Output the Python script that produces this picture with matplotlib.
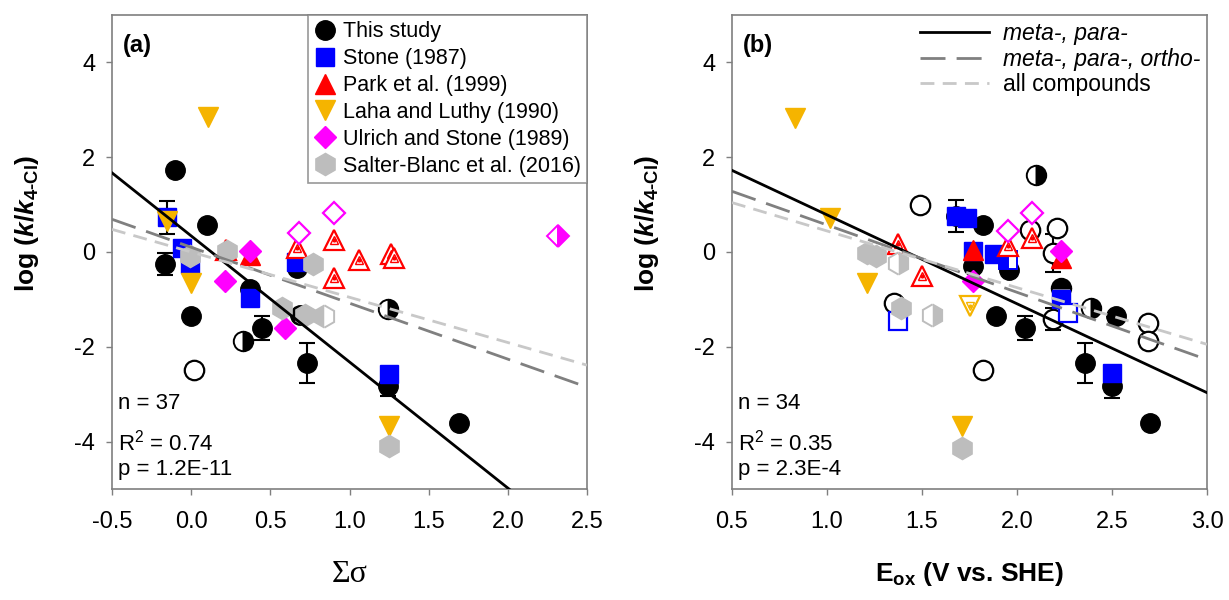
import numpy as np
import matplotlib
matplotlib.use('Agg')
import matplotlib.pyplot as plt
from matplotlib.lines import Line2D

plt.rcParams['font.family'] = ['Liberation Sans', 'DejaVu Sans']
plt.rcParams['axes.unicode_minus'] = False
plt.rcParams['mathtext.fontset'] = 'custom'
plt.rcParams['mathtext.rm'] = 'Liberation Sans:bold'
plt.rcParams['mathtext.it'] = 'Liberation Sans:italic:bold'
plt.rcParams['mathtext.bf'] = 'Liberation Sans:bold'

# ---------------- data, panel (a): log(k/k4-Cl) vs sum sigma ----------------
xa_this = [-0.10, 0.10, -0.165, 0.00, 0.37, 0.445, 0.33, 0.015, 0.73, 1.24, 1.69, 1.24, 0.67, 0.69]
ya_this = [1.74, 0.58, -0.26, -1.35, -0.79, -1.60, -1.88, -2.48, -2.35, -2.83, -3.60, -1.21, -0.33, -1.32]
ka_this = ['full', 'full', 'full', 'full', 'full', 'full', 'right', 'none', 'full', 'full', 'full', 'right', 'full', 'full']

xa_stone = [-0.154, -0.06, -0.006, 0.37, 1.25, 0.66]
ya_stone = [0.73, 0.09, -0.26, -0.96, -2.58, -0.22]
ka_stone = ['full'] * 6

xa_park = [0.37, 0.22, 0.67, 0.90, 0.90, 1.06, 1.26, 1.28]
ya_park = [-0.07, 0.04, 0.09, 0.26, -0.54, -0.16, -0.05, -0.12]
ka_park = ['full', 'dot', 'dot', 'dot', 'dot', 'dot', 'dot', 'dot']

xa_laha = [0.108, -0.154, 0.0, 1.25]
ya_laha = [2.84, 0.65, -0.65, -3.67]
ka_laha = ['full'] * 4

xa_ulrich = [0.373, 0.215, 0.595, 0.68, 0.90, 2.32]
ya_ulrich = [0.02, -0.62, -1.60, 0.40, 0.83, 0.33]
ka_ulrich = ['full', 'full', 'full', 'none', 'none', 'right']

xa_salter = [-0.006, 0.226, 0.574, 0.72, 0.84, 0.77, 1.25]
ya_salter = [-0.09, 0.02, -1.18, -1.32, -1.35, -0.26, -4.10]
ka_salter = ['full', 'full', 'full', 'full', 'left', 'full', 'full']

xa_err = [-0.154, -0.165, 0.445, 0.73, 1.24]
ya_err = [0.73, -0.26, -1.60, -2.35, -2.83]
ea_err = [0.34, 0.23, 0.26, 0.42, 0.20]

# regression lines (a): slope, intercept
fit_a = {'mp': (-2.66, 0.34), 'mpo': (-1.18, 0.10), 'all': (-0.955, 0.0)}

# ---------------- data, panel (b): log(k/k4-Cl) vs Eox ----------------
xb_this = [1.49, 1.82, 1.77, 1.96, 2.10, 2.07, 2.21, 2.19, 2.23, 1.89, 2.04, 1.82, 2.19, 2.39,
           2.52, 2.69, 2.69, 2.36, 2.50, 2.70, 1.35, 1.68]
yb_this = [1.00, 0.58, -0.30, -0.37, 1.63, 0.47, 0.51, -0.03, -0.75, -1.35, -1.60, -2.48, -1.42, -1.18,
           -1.35, -1.50, -1.88, -2.34, -2.83, -3.60, -1.07, 0.76]
kb_this = ['none', 'full', 'full', 'full', 'right', 'none', 'none', 'none', 'top', 'full', 'full', 'none',
           'none', 'right', 'full', 'none', 'none', 'full', 'full', 'full', 'none', 'full']

xb_stone = [1.68, 1.735, 1.77, 1.88, 2.23, 2.50, 1.955, 1.375, 2.27]
yb_stone = [0.76, 0.72, 0.02, -0.05, -1.00, -2.55, -0.16, -1.46, -1.28]
kb_stone = ['full', 'full', 'full', 'full', 'full', 'full', 'left', 'none', 'none']

xb_park = [1.77, 2.23, 1.375, 1.50, 1.955, 2.08]
yb_park = [0.05, -0.12, 0.16, -0.51, 0.12, 0.30]
kb_park = ['full', 'full', 'dot', 'dot', 'dot', 'dot']

xb_laha = [0.83, 1.016, 1.21, 1.71, 1.75]
yb_laha = [2.83, 0.72, -0.65, -3.67, -1.14]
kb_laha = ['full', 'full', 'full', 'full', 'dot']

xb_ulrich = [1.77, 2.23, 1.955, 2.08]
yb_ulrich = [-0.62, 0.02, 0.44, 0.83]
kb_ulrich = ['full', 'full', 'none', 'none']

xb_salter = [1.21, 1.26, 1.375, 1.39, 1.55, 1.71]
yb_salter = [-0.02, -0.09, -0.23, -1.18, -1.32, -4.13]
kb_salter = ['full', 'full', 'right', 'full', 'right', 'full']

xb_err = [1.68, 2.19, 2.04, 2.19, 2.36, 2.50]
yb_err = [0.76, -0.03, -1.60, -1.42, -2.34, -2.83]
eb_err = [0.34, 0.40, 0.26, 0.23, 0.42, 0.24]

fit_b = {'mp': (-1.876, 2.66), 'mpo': (-1.42, 1.99), 'all': (-1.196, 1.64)}

series_labels = ['This study', 'Stone (1987)', 'Park et al. (1999)', 'Laha and Luthy (1990)',
                 'Ulrich and Stone (1989)', 'Salter-Blanc et al. (2016)']
fit_labels = ['meta-, para-', 'meta-, para-, ortho-', 'all compounds']

c_blue = '#0000FF'
c_red = '#FF0000'
c_orange = '#F5B400'
c_mag = '#FF00FF'
c_gray = '#BDBDBD'
frame_col = '#7F7F7F'

styles = [('o', 'black', 14), ('s', c_blue, 13), ('^', c_red, 14),
          ('v', c_orange, 14), ('D', c_mag, 11), ('h', c_gray, 16)]

ylab = r'log ($k$/$k_{\mathregular{4\text{-}Cl}}$)'


def draw(ax, x, y, kinds, marker, color, ms):
    for xi, yi, k in zip(x, y, kinds):
        if k == 'full':
            ax.plot(xi, yi, marker, ms=ms, mfc=color, mec=color, zorder=3)
        elif k == 'none':
            ax.plot(xi, yi, marker, ms=ms, mfc='white', mec=color, mew=1.6, zorder=3)
        elif k == 'dot':
            ax.plot(xi, yi, marker, ms=ms, mfc='white', mec=color, mew=1.6, zorder=3)
            ax.plot(xi, yi, marker, ms=ms * 0.45, mfc='white', mec=color, mew=1.0, ls='none', zorder=3)
            ax.plot(xi, yi, '.', ms=4, color=color, zorder=3)
        else:
            ax.plot(xi, yi, marker, ms=ms, fillstyle=k, mfc=color, mfcalt='white',
                    mec=color, mew=1.4, zorder=3)


def setup(ax, xlim, xticks):
    ax.set_xlim(xlim)
    ax.set_ylim(-5, 5)
    ax.set_xticks(xticks)
    ax.set_xticklabels(['%.1f' % t for t in xticks])
    ax.set_yticks([-4, -2, 0, 2, 4])
    ax.tick_params(direction='out', length=4, width=1, color=frame_col, labelsize=17, pad=8)
    ax.tick_params(axis='x', pad=12)
    for s in ax.spines.values():
        s.set_color(frame_col)
        s.set_linewidth(1.2)


def fit_lines(ax, fit, xlim):
    xx = np.array(xlim)
    ax.plot(xx, fit['mp'][0] * xx + fit['mp'][1], color='black', lw=2, zorder=4)
    ax.plot(xx, fit['mpo'][0] * xx + fit['mpo'][1], color='#808080', lw=2, dashes=(9, 4), zorder=4)
    ax.plot(xx, fit['all'][0] * xx + fit['all'][1], color='#C8C8C8', lw=2, dashes=(5, 3), zorder=4)


def stats(ax, n, r2, p):
    ax.text(0.013, 0.181, 'n = %d' % n, transform=ax.transAxes, fontsize=16, va='center')
    ax.text(0.013, 0.099, r'R$^{\mathregular{2}}$ = %s' % r2, transform=ax.transAxes, fontsize=16, va='center')
    ax.text(0.013, 0.042, 'p = %s' % p, transform=ax.transAxes, fontsize=16, va='center')


fig = plt.figure(figsize=(12.29, 6), dpi=100)
ax1 = fig.add_axes([112 / 1229, 1 - 489 / 600, 475 / 1229, 474 / 600])
ax2 = fig.add_axes([732 / 1229, 1 - 489 / 600, 475 / 1229, 474 / 600])

# panel (a)
setup(ax1, (-0.5, 2.5), np.arange(-0.5, 2.51, 0.5))
ax1.errorbar(xa_err, ya_err, yerr=ea_err, fmt='none', ecolor='black', elinewidth=1.5,
             capsize=6, capthick=1.5, zorder=2)
data_a = [(xa_this, ya_this, ka_this), (xa_stone, ya_stone, ka_stone), (xa_park, ya_park, ka_park),
          (xa_laha, ya_laha, ka_laha), (xa_ulrich, ya_ulrich, ka_ulrich), (xa_salter, ya_salter, ka_salter)]
for (x, y, k), (m, c, ms) in zip(data_a, styles):
    draw(ax1, x, y, k, m, c, ms)
fit_lines(ax1, fit_a, (-0.5, 2.5))
ax1.text(0.023, 0.935, '(a)', transform=ax1.transAxes, fontsize=17, fontweight='bold', va='center')
stats(ax1, 37, '0.74', '1.2E-11')
ax1.set_xlabel('Σσ', fontsize=23, family='Liberation Serif')
ax1.xaxis.set_label_coords(0.5, -0.15)
ax1.set_ylabel(ylab, fontsize=19, fontweight='bold')
ax1.yaxis.set_label_coords(-0.15, 0.56)

handles = [Line2D([], [], marker=m, color=c, ms=ms, ls='none') for (m, c, ms) in styles]
leg = ax1.legend(handles, series_labels, loc='upper right', bbox_to_anchor=(1, 1), borderaxespad=0,
                 fontsize=15.5, frameon=True, fancybox=False, handlelength=1.0, handletextpad=0.3,
                 labelspacing=0.27, borderpad=0.3)
leg.get_frame().set_edgecolor(frame_col)
leg.get_frame().set_linewidth(1.2)

# panel (b)
setup(ax2, (0.5, 3.0), np.arange(0.5, 3.01, 0.5))
ax2.errorbar(xb_err, yb_err, yerr=eb_err, fmt='none', ecolor='black', elinewidth=1.5,
             capsize=6, capthick=1.5, zorder=2)
data_b = [(xb_this, yb_this, kb_this), (xb_stone, yb_stone, kb_stone), (xb_park, yb_park, kb_park),
          (xb_laha, yb_laha, kb_laha), (xb_ulrich, yb_ulrich, kb_ulrich), (xb_salter, yb_salter, kb_salter)]
for (x, y, k), (m, c, ms) in zip(data_b, styles):
    draw(ax2, x, y, k, m, c, ms)
fit_lines(ax2, fit_b, (0.5, 3.0))
ax2.text(0.023, 0.935, '(b)', transform=ax2.transAxes, fontsize=17, fontweight='bold', va='center')
stats(ax2, 34, '0.35', '2.3E-4')
ax2.set_xlabel(r'E$_{\mathregular{ox}}$ (V vs. SHE)', fontsize=19, fontweight='bold')
ax2.xaxis.set_label_coords(0.5, -0.15)
ax2.set_ylabel(ylab, fontsize=19, fontweight='bold')
ax2.yaxis.set_label_coords(-0.15, 0.56)

lhandles = [Line2D([], [], color='black', lw=2),
            Line2D([], [], color='#808080', lw=2, dashes=(9, 4)),
            Line2D([], [], color='#C8C8C8', lw=2, dashes=(5, 3))]
leg2 = ax2.legend(lhandles, fit_labels, loc='upper right', bbox_to_anchor=(1, 1), borderaxespad=0,
                  fontsize=16.5, frameon=False, handlelength=3.0, handletextpad=0.6, labelspacing=0.12,
                  borderpad=0.3)
for t in leg2.get_texts()[:2]:
    t.set_fontstyle('italic')

fig.savefig('out.png', dpi=100)
